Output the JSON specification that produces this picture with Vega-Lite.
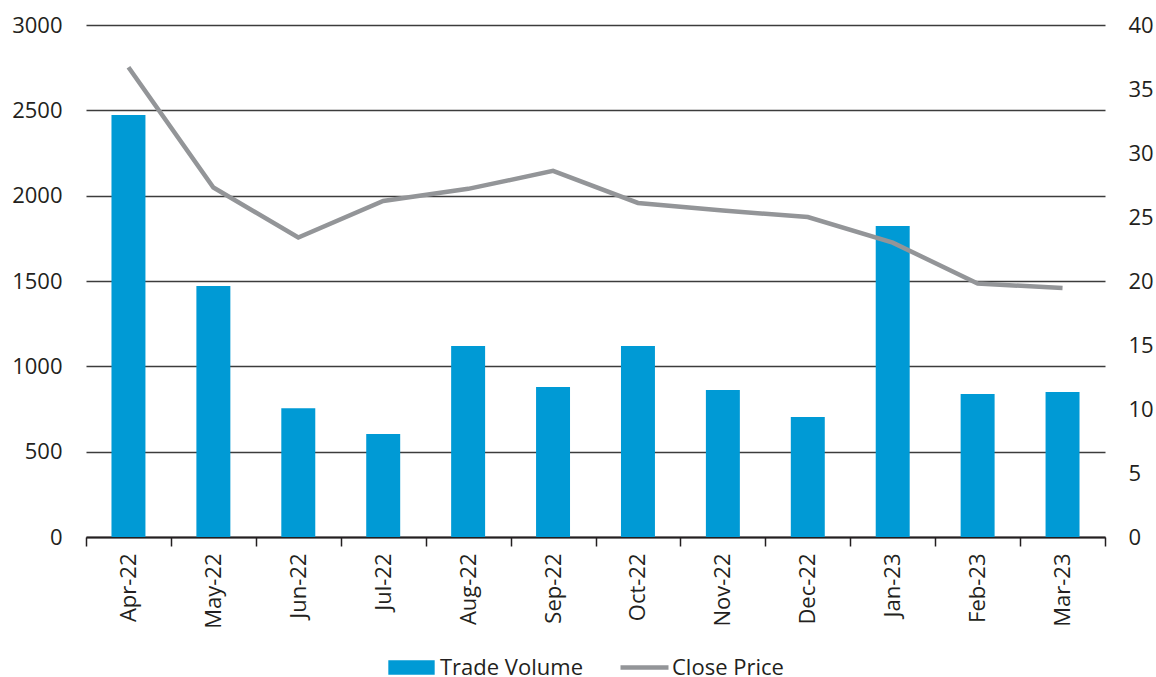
{
  "$schema": "https://vega.github.io/schema/vega-lite/v6.json",
  "width": 1019,
  "height": 512,
  "autosize": "none",
  "padding": {"left": 86, "top": 25, "right": 51, "bottom": 140},
  "background": "white",
  "config": {
    "view": {"stroke": null},
    "font": "Open Sans",
    "axis": {"labelFont": "Open Sans", "labelFontSize": 22, "labelColor": "#231f20"},
    "legend": {"labelFont": "Open Sans", "labelFontSize": 22, "labelColor": "#231f20", "padding": 0}
  },
  "data": {
    "values": [
      {"month": "Apr-22", "volume": 2473, "price": 36.7},
      {"month": "May-22", "volume": 1471, "price": 27.3},
      {"month": "Jun-22", "volume": 754, "price": 23.4},
      {"month": "Jul-22", "volume": 603, "price": 26.25},
      {"month": "Aug-22", "volume": 1119, "price": 27.2},
      {"month": "Sep-22", "volume": 879, "price": 28.6},
      {"month": "Oct-22", "volume": 1119, "price": 26.1},
      {"month": "Nov-22", "volume": 861, "price": 25.5},
      {"month": "Dec-22", "volume": 703, "price": 25.0},
      {"month": "Jan-23", "volume": 1822, "price": 23.0},
      {"month": "Feb-23", "volume": 838, "price": 19.8},
      {"month": "Mar-23", "volume": 850, "price": 19.45}
    ]
  },
  "encoding": {
    "x": {
      "field": "month", "type": "ordinal", "sort": null,
      "scale": {"paddingInner": 0, "paddingOuter": 0},
      "axis": {
        "title": null, "labelAngle": -90, "labelAlign": "right", "labelBaseline": "middle",
        "labelPadding": 7, "tickBand": "extent", "tickSize": 9, "tickColor": "#231f20", "tickWidth": 1.5,
        "domainColor": "#231f20", "domainWidth": 2
      }
    }
  },
  "layer": [
    {
      "mark": {"type": "bar", "color": "#009ad5", "width": {"band": 0.4}},
      "encoding": {
        "y": {
          "field": "volume", "type": "quantitative",
          "scale": {"domain": [0, 3000]},
          "axis": {
            "title": null, "values": [0, 500, 1000, 1500, 2000, 2500, 3000], "format": "d",
            "domain": false, "ticks": false, "labelPadding": 24,
            "grid": true, "gridColor": "#3c3c3c", "gridWidth": 1.3
          }
        },
        "fill": {
          "datum": "Trade Volume", "type": "nominal",
          "scale": {"range": ["#009ad5"]},
          "legend": {
            "title": null, "orient": "none", "legendX": 311, "legendY": 628,
            "symbolType": "M-1.6,-0.5h3.2v1h-3.2z", "symbolSize": 840, "symbolStrokeWidth": 0,
            "labelOffset": 14
          }
        }
      }
    },
    {
      "mark": {"type": "line", "color": "#939598", "strokeWidth": 4.5},
      "encoding": {
        "y": {
          "field": "price", "type": "quantitative",
          "scale": {"domain": [0, 40]},
          "axis": {
            "title": null, "orient": "right", "values": [0, 5, 10, 15, 20, 25, 30, 35, 40],
            "domain": false, "ticks": false, "grid": false, "labelPadding": 23
          }
        },
        "stroke": {
          "datum": "Close Price", "type": "nominal",
          "scale": {"range": ["#939598"]},
          "legend": {
            "title": null, "orient": "none", "legendX": 532, "legendY": 616,
            "symbolType": "stroke", "symbolSize": 2304, "symbolStrokeWidth": 4.5,
            "labelOffset": 1
          }
        }
      }
    }
  ],
  "resolve": {"scale": {"y": "independent"}}
}
